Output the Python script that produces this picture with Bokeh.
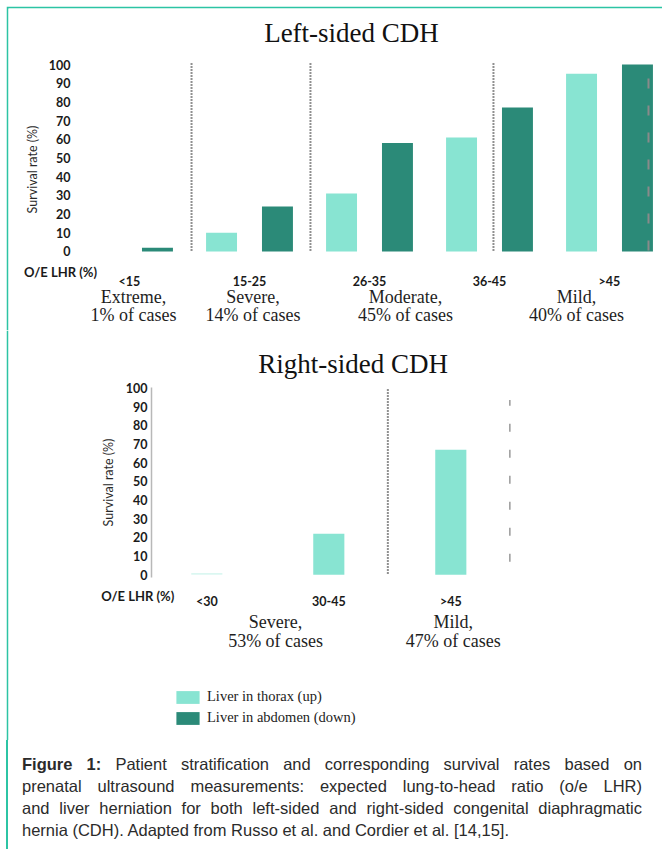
from bokeh.plotting import figure
from bokeh.models import (Range1d, FixedTicker, ColumnDataSource, Label, LabelSet,
                          Legend, LegendItem, Div)
from bokeh.layouts import column
from bokeh.core.properties import value
from bokeh.transform import dodge
from bokeh.embed import file_html
from bokeh.resources import INLINE

NaN = float("nan")

# ---------------- data ----------------
left_groups = ["<15", "15-25", "26-35", "36-45", ">45"]
left_thorax = [NaN, 10, 31, 61, 95]      # liver up
left_abdomen = [2, 24, 58, 77, 100]      # liver down
left_classes = ["Extreme,", "Severe,", "Moderate,", "Mild,"]
left_shares = ["1% of cases", "14% of cases", "45% of cases", "40% of cases"]

right_groups = ["<30", "30-45", ">45"]
right_thorax = [1, 22, 67]
right_abdomen = [NaN, NaN, NaN]          # not reported
right_classes = ["Severe,", "Mild,"]
right_shares = ["53% of cases", "47% of cases"]

y_ticks = list(range(0, 101, 10))
series_names = ["Liver in thorax (up)", "Liver in abdomen (down)"]
caption_lines = [
    "<b>Figure 1:</b> Patient stratification and corresponding survival rates based on",
    "prenatal ultrasound measurements: expected lung-to-head ratio (o/e LHR)",
    "and liver herniation for both left-sided and right-sided congenital diaphragmatic",
    "hernia (CDH). Adapted from Russo et al. and Cordier et al. [14,15].",
]

# ---------------- style ----------------
LIGHT = "#88e4d2"
DARK = "#2b8a78"
BORDER = "#2cc4a4"
SERIF = "Liberation Serif"
SANS = "Lato"
INK = "#1a1a1a"


def base_figure(height, xr, yr, top_border):
    p = figure(width=656, height=height, x_range=Range1d(*xr), y_range=Range1d(*yr),
               output_backend="svg", toolbar_location=None,
               min_border_left=2, min_border_right=0, min_border_top=top_border,
               min_border_bottom=0, background_fill_color="white",
               border_fill_color=BORDER)
    p.grid.visible = False
    p.outline_line_color = None
    return p


def style_axes(p, groups, y_at, y_standoff, x_standoff, label_standoff, yline):
    ya = p.yaxis[0]
    ya.fixed_location = y_at
    ya.ticker = FixedTicker(ticks=y_ticks)
    ya.major_tick_line_color = None
    ya.minor_tick_line_color = None
    ya.major_tick_out = 0
    ya.major_tick_in = 0
    ya.major_label_standoff = y_standoff
    ya.major_label_text_font = SANS
    ya.major_label_text_font_style = "bold"
    ya.major_label_text_font_size = "12.5px"
    ya.major_label_text_color = INK
    ya.axis_label = "Survival rate (%)"
    ya.axis_label_text_font = SANS
    ya.axis_label_text_font_style = "normal"
    ya.axis_label_text_font_size = "12.5px"
    ya.axis_label_text_color = "#2a2a2a"
    ya.axis_label_standoff = label_standoff
    if yline:
        ya.axis_line_color = "#b8b8b8"
        ya.axis_line_width = 1.5
        ya.bounds = (-1.5, 100)
    else:
        ya.axis_line_color = None
    xa = p.xaxis[0]
    xa.fixed_location = 0
    xa.ticker = FixedTicker(ticks=list(range(len(groups))))
    xa.major_label_overrides = {i: g for i, g in enumerate(groups)}
    xa.axis_line_color = None
    xa.major_tick_line_color = None
    xa.minor_tick_line_color = None
    xa.major_tick_out = 0
    xa.major_tick_in = 0
    xa.major_label_standoff = x_standoff
    xa.major_label_text_font = SANS
    xa.major_label_text_font_style = "bold"
    xa.major_label_text_font_size = "12.5px"
    xa.major_label_text_color = INK


def add_text(p, x, y, text, font, size, style="normal", color=INK):
    p.add_layout(Label(x=x, y=y, text=text, text_align="center", text_baseline="middle",
                       text_font=font, text_font_size=size, text_font_style=style,
                       text_color=color))


def add_classes(p, xs, y1, y2, classes, shares):
    src = ColumnDataSource(dict(x=xs, y1=[y1] * len(xs), y2=[y2] * len(xs),
                                c=classes, s=shares))
    for ycol, tcol in (("y1", "c"), ("y2", "s")):
        p.add_layout(LabelSet(x="x", y=ycol, text=tcol, source=src, text_align="center",
                              text_baseline="middle", text_font=value(SERIF),
                              text_font_size="18px", text_color="#1e1e1e"))


# ---------------- left-sided chart ----------------
p1 = base_figure(324, (-1.00833, 4.44167), (-42.25, 129.95), 2)
style_axes(p1, left_groups, -0.3417, 18, 23, 6, False)

src_l = ColumnDataSource(dict(i=list(range(len(left_groups))), up=left_thorax,
                              down=left_abdomen))
p1.vbar(x=dodge("i", -0.233, range=p1.x_range), top="up", bottom=0, width=0.258,
        source=src_l, fill_color=LIGHT, line_color=None)
p1.vbar(x=dodge("i", 0.233, range=p1.x_range), top="down", bottom=0, width=0.258,
        source=src_l, fill_color=DARK, line_color=None)

left_dividers = [0.517, 1.508, 3.033]
p1.segment(x0=left_dividers, y0=0.5, x1=left_dividers, y1=100.5,
           line_color="#222222", line_width=2, line_dash="1 2")
p1.segment(x0=[4.325], y0=0.5, x1=[4.325], y1=100.5,
           line_color="#8a8a8a", line_width=2, line_dash="10 17")

add_text(p1, 1.85, 117.1, "Left-sided CDH", SERIF, "27px", color="#111111")
add_text(p1, -0.575, -11.2, "O/E LHR (%)", SANS, "13px", "bold")
add_classes(p1, [0.033, 1.03, 2.3, 3.725], -24.1, -33.7, left_classes, left_shares)

# ---------------- right-sided chart (with legend) ----------------
p2 = base_figure(410, (-1.6254, 3.7352), (-88.70, 130.78), 0)
style_axes(p2, right_groups, -0.4533, 4, 19, 7, True)

src_r = ColumnDataSource(dict(i=list(range(len(right_groups))), up=right_thorax,
                              down=right_abdomen,
                              a=[0.3 if v < 2 else 1.0 for v in right_thorax]))
r_up = p2.vbar(x="i", top="up", bottom=0, width=0.255, source=src_r, fill_color=LIGHT,
               fill_alpha="a", line_color=None)
r_down = p2.vbar(x="i", top="down", bottom=0, width=0.255, source=src_r,
                 fill_color=DARK, line_color=None)
p2.segment(x0=[1.484], y0=0.7, x1=[1.484], y1=100, line_color="#222222",
           line_width=2, line_dash="1 2")
p2.segment(x0=[2.484], y0=7, x1=[2.484], y1=93.6, line_color="#999999",
           line_width=1.5, line_dash="8 18")

add_text(p2, 1.2, 113.1, "Right-sided CDH", SERIF, "27px", color="#111111")
add_text(p2, -0.566, -11.1, "O/E LHR (%)", SANS, "13px", "bold")
add_classes(p2, [0.564, 2.02], -25.5, -35.7, right_classes, right_shares)

legend = Legend(items=[LegendItem(label=series_names[0], renderers=[r_up], index=1),
                       LegendItem(label=series_names[1], renderers=[r_down], index=1)],
                location=(165, 14), orientation="vertical", glyph_width=29,
                glyph_height=16, label_height=16, spacing=4, padding=0, margin=0,
                label_standoff=5, label_text_font=SERIF, label_text_font_size="14.5px",
                label_text_color="#222222", border_line_color=None,
                background_fill_alpha=0)
p2.add_layout(legend)

# ---------------- caption ----------------
rows = []
for k, line in enumerate(caption_lines):
    last = k == len(caption_lines) - 1
    align = "text-align:left;" if last else "text-align:justify;text-align-last:justify;"
    rows.append(f'<div style="{align}">{line}</div>')
html = ('<div style="box-sizing:border-box;width:656px;height:109px;'
        f'border-left:2px solid {BORDER};padding:13px 0 0 14px;">'
        '<div style="width:620px;font-family:\'Liberation Sans\',Arial,sans-serif;'
        'font-size:16.5px;line-height:22px;color:#2b2b2b;">' + "".join(rows) +
        "</div></div>")
cap = Div(text=html, width=656, height=109, margin=0)

layout = column(p1, p2, cap, spacing=0, margin=(6, 0, 0, 6))

open("out.html", "w").write(file_html(layout, INLINE))
